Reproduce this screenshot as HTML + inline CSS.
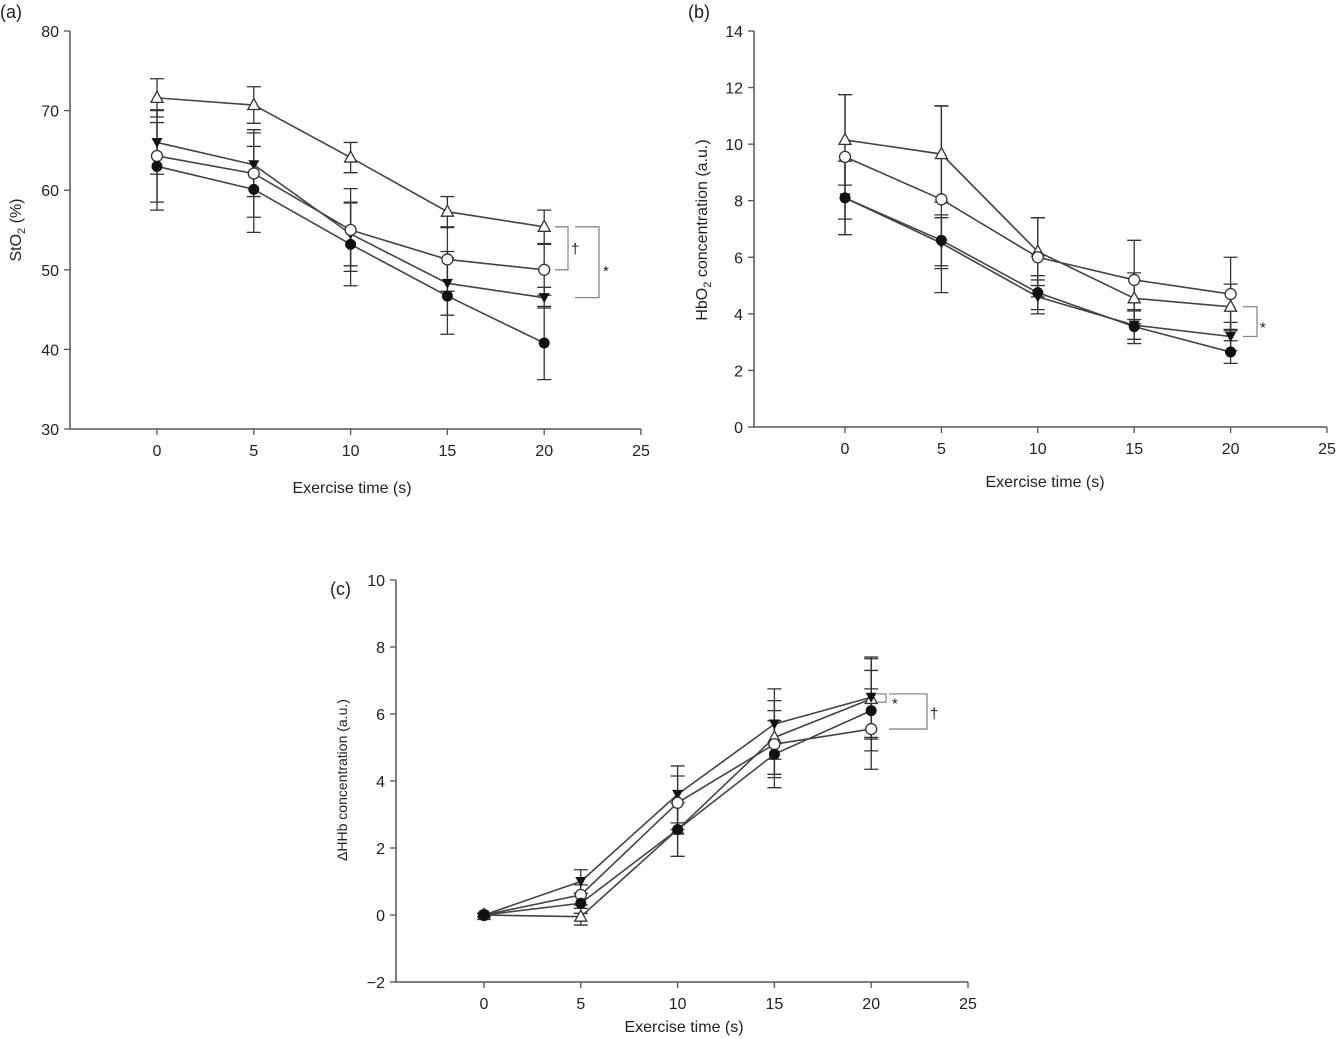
<!DOCTYPE html>
<html><head><meta charset="utf-8"><style>
html,body{margin:0;padding:0;background:#fff;}
svg{display:block;font-family:"Liberation Sans",sans-serif;}
</style></head><body>
<svg id="fig" width="1336" height="1039" viewBox="0 0 1336 1039"></svg>
<script>
// Shared x categories
const times = [0, 5, 10, 15, 20];
const xTicks = [0, 5, 10, 15, 20, 25];

// Panel (a) StO2
const aTri = [71.6, 70.7, 64.1, 57.3, 55.4];
const aTriErr = [2.4, 2.3, 1.9, 1.9, 2.1];
const aInv = [66.0, 63.2, 54.5, 48.3, 46.5];
const aInvErr = [4.0, 4.0, 4.0, 4.0, 1.3];
const aCirc = [64.3, 62.1, 55.0, 51.3, 50.0];
const aCircErr = [5.8, 5.5, 5.2, 4.0, 3.2];
const aDot = [63.0, 60.1, 53.2, 46.7, 40.8];
const aDotErr = [5.5, 5.4, 5.2, 4.8, 4.6];
const aYTicks = [30, 40, 50, 60, 70, 80];

// Panel (b) HbO2
const bTri = [10.15, 9.65, 6.2, 4.55, 4.25];
const bTriErr = [1.6, 1.7, 1.2, 0.9, 0.8];
const bCirc = [9.55, 8.05, 6.0, 5.2, 4.7];
const bCircErr = [2.2, 3.3, 1.4, 1.4, 1.3];
const bInv = [8.1, 6.5, 4.6, 3.6, 3.2];
const bInvErr = [1.3, 0.9, 0.6, 0.5, 0.5];
const bDot = [8.1, 6.6, 4.75, 3.55, 2.65];
const bDotErr = [1.3, 0.9, 0.6, 0.6, 0.4];
const bYTicks = [0, 2, 4, 6, 8, 10, 12, 14];

// Panel (c) dHHb
const cTri = [0, -0.05, 2.55, 5.3, 6.45];
const cTriErr = [0.05, 0.25, 0.8, 1.1, 1.2];
const cInv = [0, 1.0, 3.6, 5.7, 6.5];
const cInvErr = [0.05, 0.35, 0.85, 1.05, 1.2];
const cCirc = [0, 0.6, 3.35, 5.1, 5.55];
const cCircErr = [0.05, 0.3, 0.8, 1.0, 1.2];
const cDot = [0, 0.35, 2.55, 4.8, 6.1];
const cDotErr = [0.05, 0.3, 0.8, 1.0, 1.2];
const cYTicks = [-2, 0, 2, 4, 6, 8, 10];

const NS = "http://www.w3.org/2000/svg";
const svg = document.getElementById('fig');
function mk(tag, attrs, parent, text){
  const e = document.createElementNS(NS, tag);
  for (const k in attrs) e.setAttribute(k, attrs[k]);
  if (text !== undefined) e.textContent = text;
  (parent || svg).appendChild(e);
  return e;
}

function panel(cfg){
  const g = mk('g', {});
  
  
  const sx = v => cfg.x0 + (v - 0) * (cfg.x25 - cfg.x0) / 25;
  const sy = v => cfg.yBot + (v - cfg.yMin) * (cfg.yTop - cfg.yBot) / (cfg.yMax - cfg.yMin);
  cfg.sy = sy; cfg.sx = sx;
  const ax = mk('path', {d:`M${cfg.axisX},${cfg.yTop} L${cfg.axisX},${cfg.yBot} L${cfg.x25},${cfg.yBot}`, fill:'none', stroke:'#555', 'stroke-width':1.5}, g);
  
  
  cfg.yTicks.forEach(t => {
    const y = sy(t);
    mk('line', {x1:cfg.axisX-6, x2:cfg.axisX, y1:y, y2:y, stroke:'#555', 'stroke-width':1.3}, g);
    const lb = mk('text', {x:cfg.axisX-11, y:y+6, 'text-anchor':'end', 'font-size':cfg.fs, fill:'#222'}, g, t < 0 ? '\u2212' + Math.abs(t) : String(t));
    
    
  });
  xTicks.forEach(t => {
    const x = sx(t);
    mk('line', {x1:x, x2:x, y1:cfg.yBot, y2:cfg.yBot+6, stroke:'#555', 'stroke-width':1.3}, g);
    const lb = mk('text', {x:x, y:cfg.yBot+27, 'text-anchor':'middle', 'font-size':cfg.fs, fill:'#222'}, g, String(t));
    
    
  });
  const xt = mk('text', {x:cfg.xtX, y:cfg.xtY, 'text-anchor':'middle', 'font-size':cfg.fs, fill:'#222'}, g, 'Exercise time (s)');
  
  
  const yt = mk('text', {x:0, y:0, transform:`translate(${cfg.ytX},${cfg.ytY}) rotate(-90)`, 'text-anchor':'middle', 'font-size':cfg.yfs, fill:'#222'}, g);
  yt.innerHTML = cfg.ytitle;
  
  
  const pl = mk('text', {x:cfg.lblX, y:cfg.lblY, 'font-size':18, fill:'#222'}, g, cfg.label);
  
  

  cfg.series.forEach(s => {
    times.forEach((t, i) => {
      const x = sx(t), y1 = sy(s.v[i] - s.e[i]), y2 = sy(s.v[i] + s.e[i]);
      const eb = mk('path', {d:`M${x},${y1} L${x},${y2} M${x-7},${y1} L${x+7},${y1} M${x-7},${y2} L${x+7},${y2}`, stroke:'#333', 'stroke-width':1.3, fill:'none'}, g);
      
      
    });
  });
  cfg.series.forEach(s => {
    const pts = times.map((t, i) => `${sx(t)},${sy(s.v[i])}`).join(' ');
    const ln = mk('polyline', {points:pts, fill:'none', stroke:'#444', 'stroke-width':1.6}, g);
    
    
  });
  cfg.series.forEach(s => {
    times.forEach((t, i) => {
      const x = sx(t), y = sy(s.v[i]);
      let m;
      if (s.m === 'dot') m = mk('circle', {cx:x, cy:y, r:5.5, fill:'#111'}, g);
      else if (s.m === 'circ') m = mk('circle', {cx:x, cy:y, r:5.5, fill:'#fff', stroke:'#333', 'stroke-width':1.3}, g);
      else if (s.m === 'tri') m = mk('polygon', {points:`${x},${y-6.5} ${x-6},${y+4.5} ${x+6},${y+4.5}`, fill:'#fff', stroke:'#333', 'stroke-width':1.3}, g);
      else m = mk('polygon', {points:`${x},${y+5.5} ${x-5.5},${y-4.5} ${x+5.5},${y-4.5}`, fill:'#111'}, g);
      
      
    });
  });
  return cfg;
}

function bracket(x1, x2, ya, yb, sym, sx, sy){
  const b = mk('path', {d:`M${x1},${ya} L${x2},${ya} L${x2},${yb} L${x1},${yb}`, fill:'none', stroke:'#888', 'stroke-width':1.3});
  
  
  const t = mk('text', {x:sx, y:sy, 'font-size':15, fill:'#222'}, undefined, sym);
  
  
}

const A = panel({name:'panel-a', axisX:70, x0:157, x25:641, yTop:31, yBot:429, yMin:30, yMax:80, yTicks:aYTicks, fs:16, yfs:16,
  xtX:352, xtY:493, ytX:21, ytY:230, ytitle:'StO<tspan font-size="11" dy="4">2</tspan><tspan dy="-4"> (%)</tspan>', label:'(a)', lblX:0, lblY:18,
  series:[{name:'open-triangle',m:'tri',v:aTri,e:aTriErr},{name:'filled-inverted-triangle',m:'inv',v:aInv,e:aInvErr},
          {name:'open-circle',m:'circ',v:aCirc,e:aCircErr},{name:'filled-circle',m:'dot',v:aDot,e:aDotErr}]});
bracket(555, 568, A.sy(aTri[4]), A.sy(aCirc[4]), '\u2020', 571, A.sy(52.6)+5);
bracket(575, 599, A.sy(aTri[4]), A.sy(aInv[4]), '*', 603, A.sy(50.5)+10);

const B = panel({name:'panel-b', axisX:754, x0:845, x25:1327, yTop:31, yBot:427, yMin:0, yMax:14, yTicks:bYTicks, fs:16, yfs:16,
  xtX:1045, xtY:487, ytX:707, ytY:230, ytitle:'HbO<tspan font-size="11" dy="4">2</tspan><tspan dy="-4"> concentration (a.u.)</tspan>', label:'(b)', lblX:688, lblY:18,
  series:[{name:'open-triangle',m:'tri',v:bTri,e:bTriErr},{name:'open-circle',m:'circ',v:bCirc,e:bCircErr},
          {name:'filled-inverted-triangle',m:'inv',v:bInv,e:bInvErr},{name:'filled-circle',m:'dot',v:bDot,e:bDotErr}]});
bracket(1243, 1257, B.sy(bTri[4]), B.sy(bInv[4]), '*', 1260, B.sy(3.7)+10);

const C = panel({name:'panel-c', axisX:396, x0:484, x25:968, yTop:580, yBot:982, yMin:-2, yMax:10, yTicks:cYTicks, fs:16, yfs:14,
  xtX:684, xtY:1032, ytX:347, ytY:780, ytitle:'\u0394HHb concentration (a.u.)', label:'(c)', lblX:330, lblY:595,
  series:[{name:'open-triangle',m:'tri',v:cTri,e:cTriErr},{name:'filled-inverted-triangle',m:'inv',v:cInv,e:cInvErr},
          {name:'open-circle',m:'circ',v:cCirc,e:cCircErr},{name:'filled-circle',m:'dot',v:cDot,e:cDotErr}]});
bracket(877, 886, C.sy(6.6), C.sy(6.35), '*', 892, C.sy(6.5)+11);
bracket(889, 927, C.sy(6.6), C.sy(5.55), '\u2020', 930, C.sy(6.05)+6);
</script>
</body></html>
